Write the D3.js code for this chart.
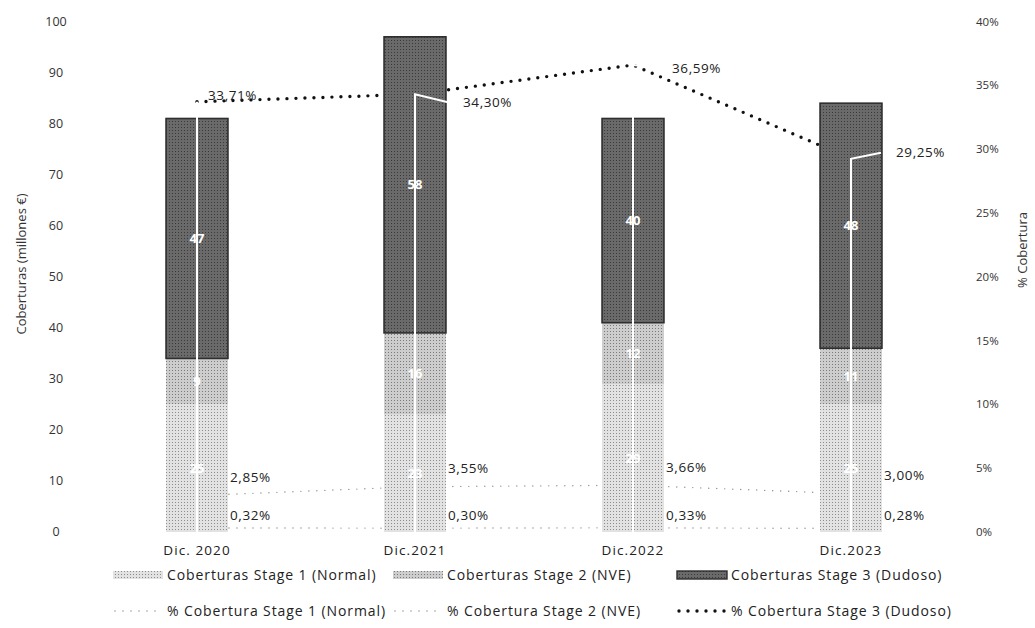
<!DOCTYPE html>
<html>
<head>
<meta charset="utf-8">
<script src="https://cdn.jsdelivr.net/npm/d3@7"></script>
<style>
  html, body { margin: 0; padding: 0; background: #fff; }
  svg { display: block; font-family: "Open Sans", "Noto Sans", sans-serif; }
</style>
</head>
<body>
<svg id="chart" width="1035" height="628"></svg>
<script>
// Coverage by stage (millions of euros) and coverage ratios (%)
const categories = ["Dic. 2020", "Dic.2021", "Dic.2022", "Dic.2023"];
const stage1 = [25, 23, 29, 25];
const stage2 = [9, 16, 12, 11];
const stage3 = [47, 58, 40, 48];
const pctStage1 = [0.32, 0.30, 0.33, 0.28];
const pctStage2 = [2.85, 3.55, 3.66, 3.00];
const pctStage3 = [33.71, 34.30, 36.59, 29.25];
const leftTicks = [0, 10, 20, 30, 40, 50, 60, 70, 80, 90, 100];
const rightTicks = [0, 5, 10, 15, 20, 25, 30, 35, 40];
const seriesNames = [
  "Coberturas Stage 1 (Normal)", "Coberturas Stage 2 (NVE)", "Coberturas Stage 3 (Dudoso)",
  "% Cobertura Stage 1 (Normal)", "% Cobertura Stage 2 (NVE)", "% Cobertura Stage 3 (Dudoso)"
];

// Hand-placed nudges for the Stage 3 ratio labels (dx, dy from the point)
const pct3LabelNudge = [[11, -7], [48, 8], [39, 3], [45, -6]];

const svg = d3.select("#chart");
const fmtPct = v => d3.format(".2f")(v).replace(".", ",") + "%";

const x = d3.scaleBand().domain(categories).range([88, 960])
  .paddingInner(0.716).paddingOuter(0.358);
const y = d3.scaleLinear().domain([0, 100]).range([532, 21.5]);
const y2 = d3.scaleLinear().domain([0, 40]).range([532, 21.5]);
const cx = c => x(c) + x.bandwidth() / 2;

// Fill patterns
const defs = svg.append("defs");
function dotPattern(id, base, dot) {
  const p = defs.append("pattern").attr("id", id).attr("patternUnits", "userSpaceOnUse")
    .attr("width", 3).attr("height", 3);
  p.append("rect").attr("width", 3).attr("height", 3).attr("fill", base);
  p.append("rect").attr("x", 1).attr("y", 1).attr("width", 1).attr("height", 1).attr("fill", dot);
}
dotPattern("pS1", "#e2e2e2", "#8c8c8c");
dotPattern("pS2", "#cdcdcd", "#7a7a7a");
dotPattern("pS3", "#6a6a6a", "#3a3a3a");
const fills = ["url(#pS1)", "url(#pS2)", "url(#pS3)"];

// Left axis
const gL = svg.append("g");
gL.selectAll("text").data(leftTicks).join("text")
  .attr("x", 56).attr("y", d => y(d)).attr("dy", "0.35em")
  .attr("text-anchor", "middle").attr("font-size", 12.5).attr("fill", "#333")
  .text(d => d);
svg.append("text").attr("transform", "translate(21,264) rotate(-90)")
  .attr("text-anchor", "middle").attr("dy", "0.35em").attr("font-size", 13).attr("fill", "#333")
  .text("Coberturas (millones €)");

// Right axis
const gR = svg.append("g");
gR.selectAll("text").data(rightTicks).join("text")
  .attr("x", 976).attr("y", d => y2(d)).attr("dy", "0.35em")
  .attr("text-anchor", "start").attr("font-size", 11.5).attr("fill", "#333")
  .text(d => d + "%");
svg.append("text").attr("transform", "translate(1022,250) rotate(-90)")
  .attr("text-anchor", "middle").attr("dy", "0.35em").attr("font-size", 13).attr("fill", "#333")
  .text("% Cobertura");

// Category labels
svg.append("g").selectAll("text").data(categories).join("text")
  .attr("x", d => cx(d)).attr("y", 550).attr("dy", "0.35em")
  .attr("text-anchor", "middle").attr("font-size", 13.5).attr("letter-spacing", 1.1)
  .attr("fill", "#222").text(d => d);

// Ratio lines (drawn beneath the bars)
const line = d3.line().x((d, i) => cx(categories[i])).y(d => y2(d));
svg.append("path").datum(pctStage1).attr("d", line).attr("fill", "none")
  .attr("stroke", "#8a8a8a").attr("stroke-width", 1.4).attr("stroke-linecap", "round")
  .attr("stroke-dasharray", "0 8");
svg.append("path").datum(pctStage2).attr("d", line).attr("fill", "none")
  .attr("stroke", "#8a8a8a").attr("stroke-width", 1.4).attr("stroke-linecap", "round")
  .attr("stroke-dasharray", "0 8");
svg.append("path").datum(pctStage3).attr("d", line).attr("fill", "none")
  .attr("stroke", "#111").attr("stroke-width", 3.4).attr("stroke-linecap", "round")
  .attr("stroke-dasharray", "0 9");

// Stacked bars
const table = categories.map((c, i) => ({ cat: c, s1: stage1[i], s2: stage2[i], s3: stage3[i] }));
const stacked = d3.stack().keys(["s1", "s2", "s3"])(table);
const gBars = svg.append("g");
stacked.forEach((layer, k) => {
  gBars.append("g").selectAll("rect").data(layer).join("rect")
    .attr("x", d => x(d.data.cat)).attr("width", x.bandwidth())
    .attr("y", d => y(d[1])).attr("height", d => y(d[0]) - y(d[1]))
    .attr("fill", fills[k])
    .attr("stroke", k === 2 ? "#2e2e2e" : "none").attr("stroke-width", k === 2 ? 1.6 : 0);
});

// Leader lines for the Stage 3 ratio labels
const gLead = svg.append("g").attr("stroke", "#fff").attr("stroke-width", 2).attr("fill", "none");
categories.forEach((c, i) => {
  const px = cx(c), py = y2(pctStage3[i]);
  const [dx, dy] = pct3LabelNudge[i];
  const pts = [[px, y(0)], [px, py]];
  if (dx > 20) pts.push([px + dx - 15, py + dy]);
  gLead.append("path").attr("d", d3.line()(pts));
});

// Segment value labels
stacked.forEach((layer, k) => {
  svg.append("g").selectAll("text").data(layer).join("text")
    .attr("x", d => cx(d.data.cat)).attr("y", d => y((d[0] + d[1]) / 2)).attr("dy", "0.35em")
    .attr("text-anchor", "middle").attr("font-size", 13).attr("font-weight", 700)
    .attr("fill", "#fff").text(d => d[1] - d[0]);
});

// Ratio labels
svg.append("g").selectAll("text").data(pctStage3).join("text")
  .attr("x", (d, i) => cx(categories[i]) + pct3LabelNudge[i][0])
  .attr("y", (d, i) => y2(d) + pct3LabelNudge[i][1]).attr("dy", "0.35em")
  .attr("font-size", 13.5).attr("letter-spacing", 0.6).attr("fill", "#222").text(fmtPct);
svg.append("g").selectAll("text").data(pctStage2).join("text")
  .attr("x", (d, i) => cx(categories[i]) + 33).attr("y", d => y2(d) - 18).attr("dy", "0.35em")
  .attr("font-size", 13.5).attr("letter-spacing", 0.6).attr("fill", "#222").text(fmtPct);
svg.append("g").selectAll("text").data(pctStage1).join("text")
  .attr("x", (d, i) => cx(categories[i]) + 33).attr("y", d => y2(d) - 13).attr("dy", "0.35em")
  .attr("font-size", 13.5).attr("letter-spacing", 0.6).attr("fill", "#222").text(fmtPct);

// Legend
const legendCols = [113, 393, 677];
const legendRows = [575, 611];
const gLeg = svg.append("g");
seriesNames.forEach((name, i) => {
  const col = legendCols[i % 3], row = legendRows[Math.floor(i / 3)];
  if (i < 3) {
    gLeg.append("rect").attr("x", col).attr("y", row - 4).attr("width", 50).attr("height", 8)
      .attr("fill", fills[i]).attr("stroke", i === 2 ? "#2e2e2e" : "none").attr("stroke-width", 1.4);
  } else {
    const k = i - 3;
    gLeg.append("line").attr("x1", col + 2).attr("x2", col + 48).attr("y1", row).attr("y2", row)
      .attr("stroke", k === 2 ? "#111" : "#8a8a8a").attr("stroke-width", k === 2 ? 3.4 : 1.4)
      .attr("stroke-linecap", "round").attr("stroke-dasharray", k === 2 ? "0 9" : "0 8");
  }
  gLeg.append("text").attr("x", col + 54).attr("y", row).attr("dy", "0.35em")
    .attr("font-size", 14).attr("letter-spacing", 0.9).attr("fill", "#222").text(name);
});
</script>
</body>
</html>
